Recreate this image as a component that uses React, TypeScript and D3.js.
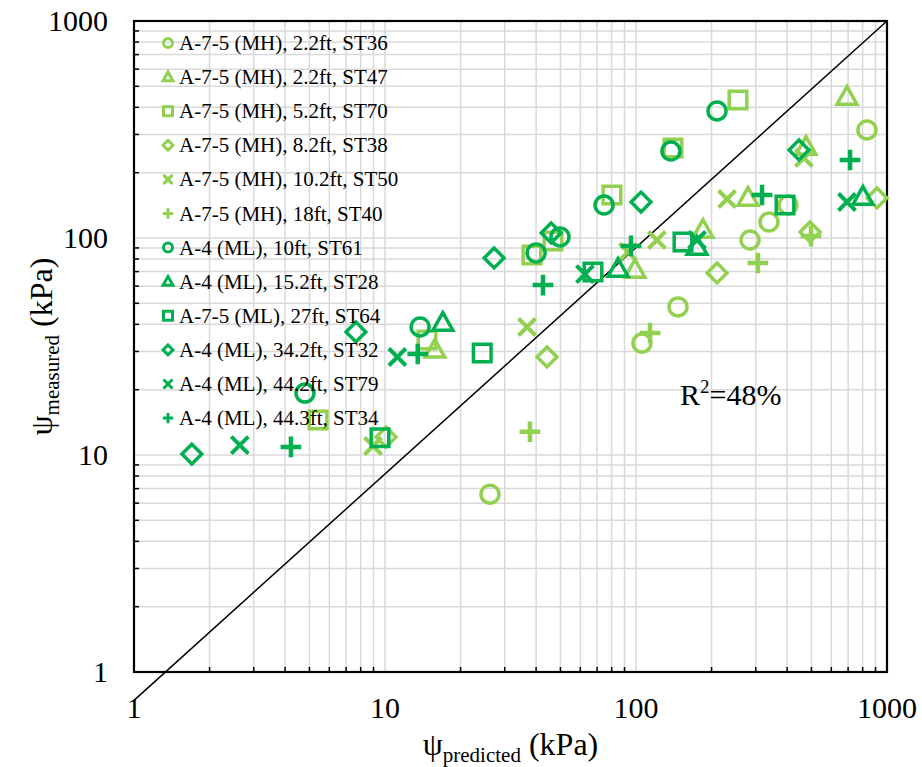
import React from 'react';
import * as d3 from 'd3';

// series: [predicted, measured]
const st36: number[][] = [[26.2, 6.6], [105.6, 32.8], [147, 48.1], [284.6, 97.9], [338.8, 118.5], [403, 141.9], [832, 314.6]];
const st47: number[][] = [[15.8, 30.5], [99.1, 71.2], [184.9, 108.9], [279.4, 152.9], [475.6, 262.5], [692.9, 446.5]];
const st70: number[][] = [[5.41, 14.5], [14.7, 33.9], [38.5, 83.5], [46.7, 96.9], [80.2, 157.8], [140.4, 259.9], [254.9, 432.6]];
const st38: number[][] = [[10.1, 12.1], [44.2, 28.3], [210.3, 69.0], [493.5, 106.6], [912, 152.9]];
const st50: number[][] = [[8.96, 11.0], [36.8, 38.9], [92.9, 86.2], [121.2, 97.9], [230.5, 151.2], [466.8, 233.7]];
const st40: number[][] = [[37.8, 12.8], [113.7, 36.5], [306, 76.7], [498, 102.1]];
const st61: number[][] = [[4.8, 19.3], [13.8, 38.9], [40.0, 85.3], [49.8, 101.1], [74.6, 141.9], [137.8, 251.7], [210.3, 384.9]];
const st28: number[][] = [[17.0, 40.6], [84.8, 72.0], [175, 90.9], [802, 154.5]];
const st64: number[][] = [[9.55, 12.0], [24.4, 29.5], [67.4, 69.7], [153.9, 95.9], [392.4, 141.9]];
const st32: number[][] = [[1.7, 10.1], [7.66, 36.9], [27.2, 80.9], [45.9, 105.5], [104.7, 146.5], [446, 254.5]];
const st79: number[][] = [[2.64, 11.1], [11.2, 28.3], [62.6, 68.2], [175, 97.9], [692.9, 146.5]];
const st34: number[][] = [[4.22, 10.9], [13.5, 29.2], [42.6, 60.7], [95.5, 91.9], [317.8, 157.8], [712.4, 228.8]];

const seriesNames = [
  'A-7-5 (MH), 2.2ft, ST36',
  'A-7-5 (MH), 2.2ft, ST47',
  'A-7-5 (MH), 5.2ft, ST70',
  'A-7-5 (MH), 8.2ft, ST38',
  'A-7-5 (MH), 10.2ft, ST50',
  'A-7-5 (MH), 18ft, ST40',
  'A-4 (ML), 10ft, ST61',
  'A-4 (ML), 15.2ft, ST28',
  'A-7-5 (ML), 27ft, ST64',
  'A-4 (ML), 34.2ft, ST32',
  'A-4 (ML), 44.2ft, ST79',
  'A-4 (ML), 44.3ft, ST34',
];
const seriesData = [st36, st47, st70, st38, st50, st40, st61, st28, st64, st32, st79, st34];
const seriesShapes = ['circle', 'triangle', 'square', 'diamond', 'x', 'plus', 'circle', 'triangle', 'square', 'diamond', 'x', 'plus'];
const seriesColors = ['#92D050', '#92D050', '#92D050', '#92D050', '#92D050', '#92D050', '#00B050', '#00B050', '#00B050', '#00B050', '#00B050', '#00B050'];

const refLine: number[][] = [[1, 0.74], [1000, 1000]];
const axisTicks = [1, 10, 100, 1000];
const r2Label = '=48%';

const font = '"Liberation Serif", "Times New Roman", serif';

const markerPath = (shape: string, r: number) => {
  const p = d3.path();
  if (shape === 'circle') {
    p.moveTo(r, 0);
    p.arc(0, 0, r, 0, Math.PI * 2);
  } else if (shape === 'triangle') {
    p.moveTo(0, -r * 1.15);
    p.lineTo(r * 1.1, r * 0.8);
    p.lineTo(-r * 1.1, r * 0.8);
    p.closePath();
  } else if (shape === 'square') {
    p.rect(-r, -r, 2 * r, 2 * r);
  } else if (shape === 'diamond') {
    p.moveTo(0, -r * 1.1);
    p.lineTo(r * 1.1, 0);
    p.lineTo(0, r * 1.1);
    p.lineTo(-r * 1.1, 0);
    p.closePath();
  } else if (shape === 'x') {
    p.moveTo(-r, -r);
    p.lineTo(r, r);
    p.moveTo(r, -r);
    p.lineTo(-r, r);
  } else {
    p.moveTo(-r * 1.15, 0);
    p.lineTo(r * 1.15, 0);
    p.moveTo(0, -r * 1.15);
    p.lineTo(0, r * 1.15);
  }
  return p.toString();
};

const markerSize: Record<string, number> = { circle: 9, triangle: 9, square: 8.8, diamond: 9, x: 8.5, plus: 9 };
const markerStroke: Record<string, number> = { circle: 3.5, triangle: 3.5, square: 3.5, diamond: 3.5, x: 4, plus: 4.5 };

const App = () => {
  const left = 134, right = 887, top = 21, bottom = 672;
  const x = d3.scaleLog().domain([1, 1000]).range([left, right]);
  const y = d3.scaleLog().domain([1, 1000]).range([bottom, top]);

  const gridVals = d3.range(0, 3).flatMap((k) => d3.range(1, 10).map((m) => m * Math.pow(10, k))).filter((v) => v > 1);
  const minorVals = gridVals.filter((v) => !axisTicks.includes(v));

  const line = d3.line<number[]>().x((d) => x(d[0])).y((d) => y(d[1]));

  return (
    <svg width={922} height={767} style={{ position: 'absolute', left: 0, top: 0, background: '#fff' }} fontFamily={font}>
      <rect width={922} height={767} fill="#fff" />
      {gridVals.map((v) => (
        <line key={'gx' + v} x1={x(v)} x2={x(v)} y1={top} y2={bottom} stroke="#d9d9d9" strokeWidth={1.5} />
      ))}
      {gridVals.map((v) => (
        <line key={'gy' + v} x1={left} x2={right} y1={y(v)} y2={y(v)} stroke="#d9d9d9" strokeWidth={1.5} />
      ))}
      {minorVals.map((v) => (
        <line key={'tx' + v} x1={x(v)} x2={x(v)} y1={bottom} y2={bottom - 5} stroke="#000" strokeWidth={1.5} />
      ))}
      {minorVals.map((v) => (
        <line key={'ty' + v} x1={left} x2={left + 5} y1={y(v)} y2={y(v)} stroke="#000" strokeWidth={1.5} />
      ))}
      <rect x={left} y={top} width={right - left} height={bottom - top} fill="none" stroke="#000" strokeWidth={2.2} />

      <path d={line(refLine) || ''} fill="none" stroke="#000" strokeWidth={1.5} />

      {axisTicks.map((v) => (
        <text key={'lx' + v} x={x(v)} y={bottom + 46} textAnchor="middle" fontSize={30}>{v}</text>
      ))}
      {axisTicks.map((v) => (
        <text key={'ly' + v} x={left - 26} y={y(v) + 10} textAnchor="end" fontSize={30}>{v}</text>
      ))}

      <text x={(left + right) / 2} y={755} textAnchor="middle" fontSize={32}>
        ψ<tspan fontSize={21} dy={7}>predicted</tspan><tspan dy={-7}> (kPa)</tspan>
      </text>
      <text transform={`translate(52, ${(top + bottom) / 2}) rotate(-90)`} textAnchor="middle" fontSize={32}>
        ψ<tspan fontSize={21} dy={7}>measured</tspan><tspan dy={-7}> (kPa)</tspan>
      </text>

      <text x={680} y={405} fontSize={30}>
        R<tspan fontSize={19} dy={-12}>2</tspan><tspan dy={12}>{r2Label}</tspan>
      </text>

      {seriesData.map((data, i) => (
        <g key={'s' + i}>
          {data.map((d, j) => (
            <path
              key={j}
              d={markerPath(seriesShapes[i], markerSize[seriesShapes[i]])}
              transform={`translate(${x(d[0])},${y(d[1])})`}
              fill="none"
              stroke={seriesColors[i]}
              strokeWidth={markerStroke[seriesShapes[i]]}
            />
          ))}
        </g>
      ))}

      {seriesNames.map((name, i) => {
        const ry = 43 + i * 34.1;
        return (
          <g key={'lg' + i}>
            <path
              d={markerPath(seriesShapes[i], 4.5)}
              transform={`translate(168,${ry})`}
              fill="none"
              stroke={seriesColors[i]}
              strokeWidth={3}
            />
            <text x={179} y={ry + 7} fontSize={21}>{name}</text>
          </g>
        );
      })}
    </svg>
  );
};

export default App;
